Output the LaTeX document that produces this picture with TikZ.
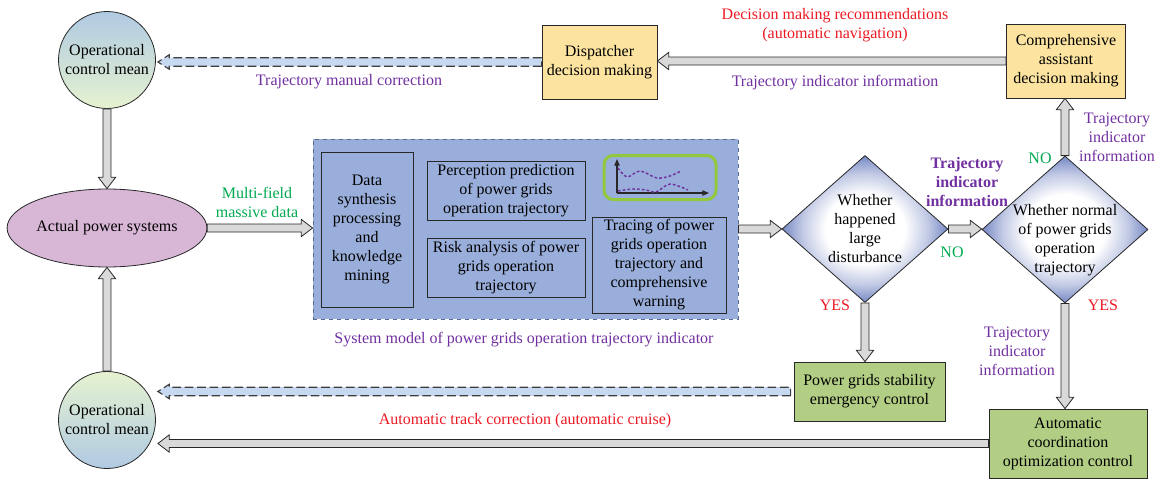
\documentclass[tikz,border=0pt]{standalone}
\usepackage{fontspec}
\setmainfont{Liberation Serif}
\usetikzlibrary{shapes.geometric,calc,arrows.meta}

\definecolor{boxyellow}{RGB}{252,228,160}
\definecolor{boxgreen}{RGB}{178,206,132}
\definecolor{modelblue}{RGB}{153,174,218}
\definecolor{modelborder}{RGB}{85,105,145}
\definecolor{ellpink}{RGB}{216,182,214}
\definecolor{circblue}{RGB}{176,202,226}
\definecolor{circgreen}{RGB}{230,242,208}
\definecolor{txtpurple}{RGB}{112,48,160}
\definecolor{txtred}{RGB}{235,25,35}
\definecolor{txtgreen}{RGB}{0,170,80}
\definecolor{arrowgray}{RGB}{217,217,217}
\definecolor{dashblue}{RGB}{198,217,240}
\definecolor{chartgreen}{RGB}{146,200,62}
\definecolor{diamedge}{RGB}{118,136,196}
\definecolor{linegray}{RGB}{40,40,40}

% white centre fading to blue towards the diamond corners
\pgfdeclareradialshading{diamshade}{\pgfpoint{0bp}{0bp}}{%
  color(0bp)=(white); color(12bp)=(white); color(19bp)=(diamedge!45!white);
  color(25bp)=(diamedge); color(50bp)=(diamedge)}

\tikzset{
  % block arrow drawn as a polygon between two points:
  % #1 half shaft width, #2 half head width, #3 head length (all in pt)
  blockpath/.style n args={3}{to path={
    let \p1=(\tikztostart), \p2=(\tikztotarget),
        \n1={veclen(\x2-\x1,\y2-\y1)},
        \n2={(\x2-\x1)/\n1}, \n3={(\y2-\y1)/\n1},
        \p3=({\x2-#3*\n2},{\y2-#3*\n3})
    in ({\x1-#1*\n3},{\y1+#1*\n2}) -- ({\x3-#1*\n3},{\y3+#1*\n2})
       -- ({\x3-#2*\n3},{\y3+#2*\n2}) -- (\p2)
       -- ({\x3+#2*\n3},{\y3-#2*\n2}) -- ({\x3+#1*\n3},{\y3-#1*\n2})
       -- ({\x1+#1*\n3},{\y1-#1*\n2}) -- cycle}},
  solidarrow/.style={blockpath={3}{6.5}{8.5}, draw=linegray, fill=arrowgray,
    line width=0.6pt, line join=miter},
  dasharrow/.style={blockpath={3.2}{5.4}{8.5}, draw=linegray!90, fill=dashblue,
    dash pattern=on 6.5pt off 2.8pt, line width=0.85pt},
  txt/.style={font=\fontsize{12}{14.25}\selectfont, align=center, inner sep=0pt},
  circ/.style={txt, circle, draw=linegray, line width=0.6pt, minimum size=97*0.75pt},
  box/.style={txt, draw=linegray, line width=0.6pt},
  ybox/.style={box, fill=boxyellow},
  gbox/.style={box, fill=boxgreen},
  decision/.style={txt, diamond, draw=linegray, line width=0.6pt,
    shading=diamshade,
    minimum width=166*0.75pt, minimum height=147*0.75pt},
  purplelbl/.style={txt, text=txtpurple},
  redlbl/.style={txt, text=txtred},
  greenlbl/.style={txt, text=txtgreen},
}

\begin{document}
\begin{tikzpicture}[x=0.75pt,y=-0.75pt]
\useasboundingbox (0,0) rectangle (1158,479);

% ---- left column: control means and the power system ----
\node[circ, top color=circblue, bottom color=circgreen] (opt) at (107,60) {Operational\\control mean};
\node[txt, ellipse, draw=linegray, line width=0.6pt, fill=ellpink,
      minimum width=195*0.75pt, minimum height=78*0.75pt] (aps) at (107,228) {Actual power systems};
\node[circ, top color=circgreen, bottom color=circblue] (opb) at (107,420) {Operational\\control mean};

% ---- top row: decision making ----
\node[ybox, minimum width=115*0.75pt, minimum height=74*0.75pt] (dd) at (599.5,62) {Dispatcher\\decision making};
\node[ybox, minimum width=119*0.75pt, minimum height=74*0.75pt] (cad) at (1066,61) {Comprehensive\\assistant\\decision making};

% ---- trajectory indicator model ----
\node[draw=modelborder, dashed, line width=0.6pt, fill=modelblue,
      minimum width=425*0.75pt, minimum height=180*0.75pt] (mb) at (525.5,229) {};
\node[box, minimum width=92*0.75pt, minimum height=155*0.75pt] (dsp) at (367,229.5)
  {Data\\synthesis\\processing\\and\\knowledge\\mining};
\node[box, minimum width=158*0.75pt, minimum height=59*0.75pt] (ppt) at (506,190.5)
  {Perception prediction\\of power grids\\operation trajectory};
\node[box, minimum width=158*0.75pt, minimum height=59*0.75pt] (rat) at (506,267.5)
  {Risk analysis of power\\grids operation\\trajectory};
\node[box, minimum width=134*0.75pt, minimum height=96*0.75pt] (tcw) at (659,265)
  {Tracing of power\\grids operation\\trajectory and\\comprehensive\\warning};

% small trajectory chart
\node[draw=chartgreen, line width=2.25pt, rounded corners=7pt,
      minimum width=112*0.75pt, minimum height=44*0.75pt] (chart) at (660,177.5) {};
\coordinate (ax0) at (617,193);
\coordinate (axy) at (617,159);
\coordinate (axx) at (709,193);
\draw[linegray, line width=0.8pt, -{Triangle[length=5pt,width=4pt]}] (ax0) -- (axy);
\draw[linegray, line width=0.8pt, -{Triangle[length=5pt,width=4pt]}] (ax0) -- (axx);
\draw[txtpurple, line width=1.1pt, dash pattern=on 2pt off 1.6pt]
  plot[smooth] coordinates {(618,168) (627,177) (640,171) (657,178) (670,176) (681,171)};
\draw[txtpurple, line width=1.1pt, dash pattern=on 2pt off 1.6pt]
  plot[smooth] coordinates {(618,191) (633,189) (646,190) (656,192) (670,184) (688,190)};

\node[purplelbl] (mbcap) at (524,340) {System model of power grids operation trajectory indicator};

% ---- decisions ----
\node[decision] (d1) at (865,229) {Whether\\happened\\large\\disturbance};
\node[decision] (d2) at (1065,229.5) {};
\node[txt] (d2t) at (1065,240.5) {Whether normal\\of power grids\\operation\\trajectory};

% ---- control actions ----
\node[gbox, minimum width=151*0.75pt, minimum height=59*0.75pt] (pgs) at (869.5,391.5)
  {Power grids stability\\emergency control};
\node[gbox, minimum width=158*0.75pt, minimum height=69*0.75pt] (acoc) at (1068,443.5)
  {Automatic\\coordination\\optimization control};

% ---- block arrows ----
\draw[solidarrow] (opt.south) to (aps.north);
\draw[solidarrow] (opb.north) to (aps.south);
\draw[solidarrow] (aps.east) to (aps.east -| mb.west);
\draw[solidarrow] (mb.east |- d1.west) to (d1.west);
\draw[solidarrow] (d1.east) to (d1.east -| d2.west);
\draw[solidarrow] (d1.south) to (d1.south |- pgs.north);
\draw[solidarrow] (d2.south) to (d2.south |- acoc.north);
\draw[solidarrow] (d2.north) to (d2.north |- cad.south);
\draw[solidarrow] (cad.west) to (dd.east |- cad.west);
\coordinate (optin) at ($(opt.east)+(2,0)$);
\draw[dasharrow] (dd.west) to (optin |- dd.west);
\coordinate (opbin) at ($(opb.east)+(2,0)$);
\coordinate (pgsout) at ($(pgs.west)+(-3,0)$);
\draw[dasharrow] (pgsout) to (opbin |- pgsout);
\draw[solidarrow] (acoc.west) to (opbin |- acoc.west);

% ---- labels ----
\node[purplelbl] (lmanual) at (349,82) {Trajectory manual correction};
\node[redlbl] (lrecom) at (835,25.5) {Decision making recommendations\\(automatic navigation)};
\node[purplelbl] (ltop) at (835,83) {Trajectory indicator information};
\node[purplelbl] (lright) at (1117,137) {Trajectory\\indicator\\information};
\node[greenlbl] (lno2) at (1040,158) {NO};
\node[greenlbl] (lmulti) at (257,202) {Multi-field\\massive data};
\node[purplelbl, font=\fontsize{12}{14.25}\selectfont\bfseries] (lmid) at (967,182) {Trajectory\\indicator\\information};
\node[greenlbl] (lno1) at (952,252) {NO};
\node[redlbl] (lyes1) at (835,305) {YES};
\node[redlbl] (lyes2) at (1103,305) {YES};
\node[purplelbl] (lbot) at (1017,351) {Trajectory\\indicator\\information};
\node[redlbl] (lauto) at (525,421) {Automatic track correction (automatic cruise)};

\end{tikzpicture}
\end{document}
